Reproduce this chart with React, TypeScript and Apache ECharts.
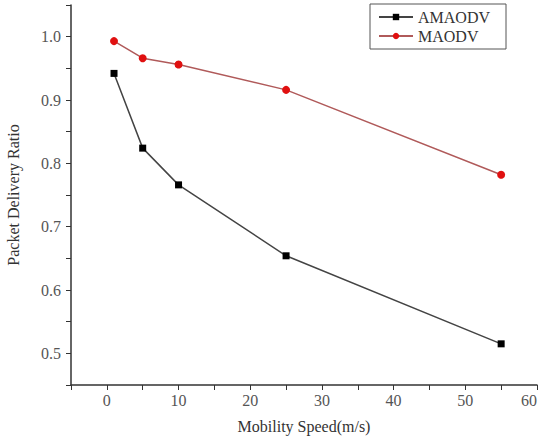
import React, { useEffect, useRef } from "react";
import * as echarts from "echarts";

const speeds = [1, 5, 10, 25, 55];
const amaodv = [0.942, 0.824, 0.766, 0.654, 0.515];
const maodv = [0.993, 0.966, 0.956, 0.916, 0.782];
const seriesNames = ["AMAODV", "MAODV"];

const FONT = "Liberation Serif";

export default function App() {
  const ref = useRef<HTMLDivElement>(null);
  useEffect(() => {
    if (!ref.current) return;
    const chart = echarts.init(ref.current, undefined, { renderer: "svg" });
    chart.setOption({
      animation: false,
      backgroundColor: "#ffffff",
      textStyle: { fontFamily: FONT },
      grid: { left: 71, right: 2, top: 5, bottom: 59, containLabel: false, outerBoundsMode: "none" },
      legend: {
        orient: "vertical",
        left: 370,
        top: 4,
        itemWidth: 34,
        itemHeight: 8,
        itemGap: 3,
        padding: [5, 16, 5, 8],
        borderColor: "#555",
        borderWidth: 1,
        textStyle: { fontFamily: FONT, fontSize: 16, color: "#333" },
        data: seriesNames,
      },
      xAxis: {
        type: "value",
        min: -5,
        max: 60,
        interval: 5,
        name: "Mobility Speed(m/s)",
        nameLocation: "middle",
        nameGap: 33,
        nameTextStyle: { fontFamily: FONT, fontSize: 16, color: "#333" },
        axisLine: { onZero: false, lineStyle: { color: "#333", width: 1.5 } },
        axisTick: { inside: false, length: 5, lineStyle: { color: "#333" } },
        axisLabel: {
          fontFamily: FONT,
          fontSize: 16,
          color: "#555",
          margin: 7,
          showMaxLabel: true,
          alignMaxLabel: "right",
          formatter: (v: number) => (Math.round(v) % 10 === 0 && v >= 0 ? String(v) : ""),
        },
        splitLine: { show: false },
      },
      yAxis: {
        type: "value",
        min: 0.45,
        max: 1.05,
        interval: 0.05,
        name: "Packet Delivery Ratio",
        nameLocation: "middle",
        nameGap: 50,
        nameTextStyle: { fontFamily: FONT, fontSize: 16, color: "#333" },
        axisLine: { show: true, onZero: false, lineStyle: { color: "#333", width: 1.5 } },
        axisTick: { show: true, inside: false, length: 5, lineStyle: { color: "#333" } },
        axisLabel: {
          fontFamily: FONT,
          fontSize: 16,
          color: "#555",
          margin: 10,
          formatter: (v: number) => {
            const r = Math.round(v * 100);
            if (r % 10 !== 0 || r > 100) return "";
            return (r / 100).toFixed(1);
          },
        },
        splitLine: { show: false },
      },
      series: [
        {
          name: seriesNames[0],
          type: "line",
          data: speeds.map((s, i) => [s, amaodv[i]]),
          symbol: "rect",
          symbolSize: 7,
          itemStyle: { color: "#000" },
          lineStyle: { color: "#444", width: 1.5 },
        },
        {
          name: seriesNames[1],
          type: "line",
          data: speeds.map((s, i) => [s, maodv[i]]),
          symbol: "circle",
          symbolSize: 8,
          itemStyle: { color: "#e01010" },
          lineStyle: { color: "#b05a5a", width: 1.5 },
        },
      ],
    });
    return () => chart.dispose();
  }, []);
  return <div ref={ref} style={{ width: 539, height: 444, position: "absolute", left: 0, top: 0 }} />;
}
